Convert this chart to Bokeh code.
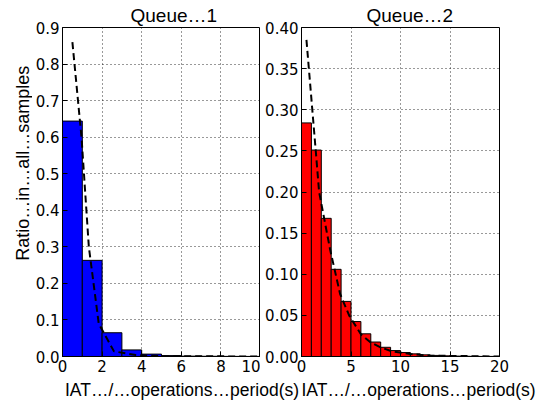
import math
from bokeh.plotting import figure
from bokeh.layouts import row, column
from bokeh.models import Range1d, Label, SingleIntervalTicker, PrintfTickFormatter
from bokeh.embed import file_html
from bokeh.resources import INLINE

# ---- data ----
q1_bin_centers = [0.5, 1.5, 2.5, 3.5, 4.5, 5.5, 6.5, 7.5, 8.5, 9.5]
q1_ratio = [0.644, 0.263, 0.065, 0.018, 0.0065, 0.0025, 0.001, 0.0006, 0.0003, 0.0002]
q1_fit_x = [0.5, 0.96, 1.33, 1.83, 2.6, 3.7, 5.0, 10.0]
q1_fit_y = [0.86, 0.60, 0.30, 0.09, 0.014, 0.004, 0.001, 0.0]

q2_bin_centers = [0.5, 1.5, 2.5, 3.5, 4.5, 5.5, 6.5, 7.5, 8.5, 9.5,
                  10.5, 11.5, 12.5, 13.5, 14.5, 15.5, 16.5, 17.5, 18.5, 19.5]
q2_ratio = [0.284, 0.251, 0.168, 0.106, 0.067, 0.0425, 0.0276, 0.0176, 0.0112, 0.0072,
            0.0048, 0.0032, 0.002, 0.0013, 0.0008, 0.0005, 0.0003, 0.0002, 0.0001, 0.0001]
q2_fit_x = [0.5, 1.44, 1.78, 2.89, 3.9, 4.81, 6.0, 7.0, 8.0, 9.2, 11.0, 13.0, 20.0]
q2_fit_y = [0.385, 0.25, 0.20, 0.13, 0.076, 0.05, 0.027, 0.017, 0.011, 0.006, 0.003, 0.001, 0.0]

titles = ["Queue\u20261", "Queue\u20262"]
x_label = "IAT\u2026/\u2026operations\u2026period(s)"
y_label = "Ratio\u2026in\u2026all\u2026samples"

TICK_FONT = "DejaVu Sans"
TEXT_FONT = "Liberation Sans"


def style(p, x_step, y_step, y_fmt, title_offset):
    p.outline_line_color = "black"
    p.outline_line_width = 1
    for ax in (p.xaxis[0], p.yaxis[0]):
        ax.axis_line_color = "black"
        ax.major_tick_in = 5
        ax.major_tick_out = 0
        ax.minor_tick_in = 0
        ax.minor_tick_out = 0
        ax.major_tick_line_color = "black"
        ax.major_label_text_font = TICK_FONT
        ax.major_label_text_font_size = "15px"
        ax.major_label_text_color = "black"
        ax.major_label_standoff = 3
    p.xaxis[0].ticker = SingleIntervalTicker(interval=x_step)
    p.yaxis[0].ticker = SingleIntervalTicker(interval=y_step)
    p.yaxis[0].formatter = PrintfTickFormatter(format=y_fmt)
    for g in (p.xgrid[0], p.ygrid[0]):
        g.grid_line_color = "black"
        g.grid_line_dash = "1 3"
        g.grid_line_width = 1
        g.grid_line_alpha = 0.8
    p.title.align = "left"
    p.title.offset = title_offset
    p.title.standoff = 4
    p.title.text_font = TEXT_FONT
    p.title.text_font_size = "19px"
    p.title.text_font_style = "normal"
    p.title.text_color = "black"


# left strip holding the y-axis label
ystrip = figure(width=32, height=378, output_backend="svg", toolbar_location=None,
                x_range=Range1d(0, 32), y_range=Range1d(0, 378),
                x_axis_type=None, y_axis_type=None, min_border=0)
ystrip.outline_line_color = None
ystrip.grid.visible = False
ystrip.add_layout(Label(x=22, y=378 - 156, text=y_label, angle=math.pi / 2, text_align="center",
                        text_baseline="middle", text_font=TEXT_FONT, text_font_size="18px",
                        text_color="black"))

# left panel
p1 = figure(width=228, height=378, output_backend="svg", toolbar_location=None,
            title=titles[0],
            x_range=Range1d(0, 10), y_range=Range1d(0, 0.9),
            min_border_left=30, min_border_right=0, min_border_top=23, min_border_bottom=22)
p1.vbar(x=q1_bin_centers, top=q1_ratio, width=1.0, bottom=0,
        fill_color="#0000ff", line_color="black", line_width=1)
p1.line(q1_fit_x, q1_fit_y, line_color="black", line_width=2, line_dash="7 4")
style(p1, 2, 0.1, "%.1f", 68)

# right panel
p2 = figure(width=277, height=378, output_backend="svg", toolbar_location=None,
            title=titles[1],
            x_range=Range1d(0, 20), y_range=Range1d(0, 0.4),
            min_border_left=41, min_border_right=38, min_border_top=23, min_border_bottom=22)
p2.vbar(x=q2_bin_centers, top=q2_ratio, width=1.0, bottom=0,
        fill_color="#ff0000", line_color="black", line_width=1)
p2.line(q2_fit_x, q2_fit_y, line_color="black", line_width=2, line_dash="7 4")
style(p2, 5, 0.05, "%.2f", 65)

# bottom strip with x-axis labels
strip = figure(width=537, height=25, output_backend="svg", toolbar_location=None,
               x_range=Range1d(0, 537), y_range=Range1d(0, 25),
               x_axis_type=None, y_axis_type=None, min_border=0)
strip.outline_line_color = None
strip.grid.visible = False
for cx in (181.5, 418.0):
    strip.add_layout(Label(x=cx, y=14, text=x_label, text_align="center", text_baseline="middle",
                           text_font=TEXT_FONT, text_font_size="17.5px", text_color="black"))

layout = column(row(ystrip, p1, p2), strip)
open("out.html", "w").write(file_html(layout, INLINE))
